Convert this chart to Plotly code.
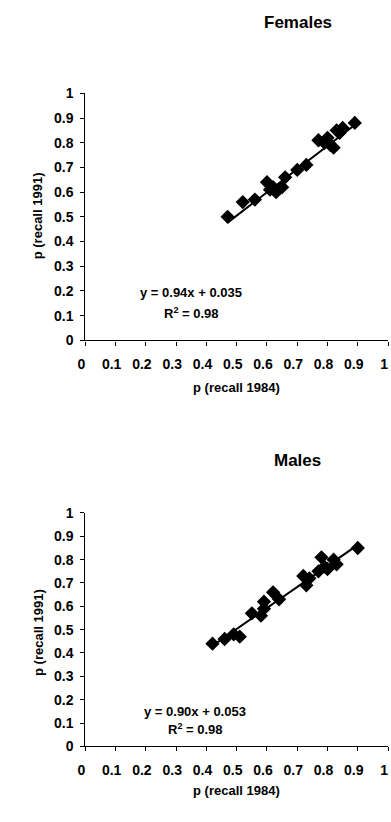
import plotly.graph_objects as go
from plotly.subplots import make_subplots

# ---- data ----
females_x = [0.47, 0.52, 0.56, 0.60, 0.61, 0.62, 0.63, 0.65, 0.66, 0.70, 0.73, 0.77, 0.79, 0.80, 0.81, 0.82, 0.83, 0.84, 0.85, 0.89]
females_y = [0.50, 0.56, 0.57, 0.64, 0.61, 0.62, 0.60, 0.62, 0.66, 0.69, 0.71, 0.81, 0.80, 0.82, 0.79, 0.78, 0.85, 0.84, 0.86, 0.88]
males_x = [0.42, 0.46, 0.49, 0.51, 0.55, 0.58, 0.59, 0.59, 0.62, 0.64, 0.72, 0.73, 0.74, 0.77, 0.78, 0.79, 0.80, 0.82, 0.83, 0.90]
males_y = [0.44, 0.46, 0.48, 0.47, 0.57, 0.56, 0.59, 0.62, 0.66, 0.63, 0.73, 0.69, 0.72, 0.75, 0.81, 0.77, 0.76, 0.80, 0.78, 0.85]

females_fit = (0.94, 0.035)
males_fit = (0.90, 0.053)
r_squared = ["0.98", "0.98"]
panel_titles = ["Females", "Males"]
eq_texts = ["y = 0.94x + 0.035", "y = 0.90x + 0.053"]

tick_vals = [0, 0.1, 0.2, 0.3, 0.4, 0.5, 0.6, 0.7, 0.8, 0.9, 1]
tick_text = ["0", "0.1", "0.2", "0.3", "0.4", "0.5", "0.6", "0.7", "0.8", "0.9", "1"]
x_title = "p (recall 1984)"
y_title = "p (recall 1991)"

W, H = 391, 822
FONT = "Liberation Sans, Arial, sans-serif"


def px(x):
    return x / W


def py(y):
    return 1 - y / H


fig = make_subplots(rows=2, cols=1)

panels = [
    (females_x, females_y, females_fit),
    (males_x, males_y, males_fit),
]
for i, (xs, ys, (m, b)) in enumerate(panels, start=1):
    fig.add_trace(go.Scatter(
        x=xs, y=ys, mode="markers",
        marker=dict(symbol="diamond", size=11, color="black"),
        cliponaxis=False, showlegend=False), row=i, col=1)
    x0, x1 = min(xs), max(xs)
    fig.add_trace(go.Scatter(
        x=[x0, x1], y=[m * x0 + b, m * x1 + b], mode="lines",
        line=dict(color="black", width=2),
        cliponaxis=False, showlegend=False), row=i, col=1)

# geometry (pixels): x axis from 79 to 388; top panel y 0->339, 1->87; bottom 0->753, 1->515
x_dom = [px(79), px(388)]
y_doms = [[py(339), py(87)], [py(753), py(515)]]

for i in (1, 2):
    xa = "xaxis" if i == 1 else "xaxis2"
    ya = "yaxis" if i == 1 else "yaxis2"
    fig.layout[xa].update(
        domain=x_dom, range=[0, 1], tickmode="array", tickvals=tick_vals, ticktext=tick_text,
        showgrid=False, zeroline=False, showline=True, linecolor="black", linewidth=1.2,
        ticks="outside", ticklen=4, tickcolor="black", tickwidth=1,
        ticklabelstandoff=7, ticklabelshift=-4,
        tickfont=dict(family=FONT, size=14, color="black", weight="bold"))
    fig.layout[ya].update(
        domain=y_doms[i - 1], range=[0, 1], tickmode="array", tickvals=tick_vals, ticktext=tick_text,
        showgrid=False, zeroline=False, showline=True, linecolor="black", linewidth=1.2,
        ticks="outside", ticklen=4, tickcolor="black", tickwidth=1,
        ticklabelstandoff=4,
        tickfont=dict(family=FONT, size=14, color="black", weight="bold"))

annots = []
title_pos = [(296, 15), (296, 461)]
xt_pos = [(233, 387), (233, 798)]
yt_pos = [(30, 212), (31, 637)]
eq_pos = [(187, 290), (191, 717)]
r2_pos = [(187, 311), (191, 735)]
for k in range(2):
    annots.append(dict(text=panel_titles[k], x=px(title_pos[k][0]), y=py(title_pos[k][1]),
                       font=dict(family=FONT, size=17, color="black", weight="bold")))
    annots.append(dict(text=x_title, x=px(xt_pos[k][0]), y=py(xt_pos[k][1]),
                       font=dict(family=FONT, size=13, color="black", weight="bold")))
    annots.append(dict(text=y_title, x=px(yt_pos[k][0]), y=py(yt_pos[k][1]), textangle=-90,
                       font=dict(family=FONT, size=13, color="black", weight="bold")))
    annots.append(dict(text=eq_texts[k], x=px(eq_pos[k][0]), y=py(eq_pos[k][1]),
                       font=dict(family=FONT, size=13, color="black", weight="bold")))
    annots.append(dict(text="R<sup>2</sup> = " + r_squared[k], x=px(r2_pos[k][0]), y=py(r2_pos[k][1]),
                       font=dict(family=FONT, size=13, color="black", weight="bold")))
for a in annots:
    a.update(xref="paper", yref="paper", showarrow=False, xanchor="center", yanchor="middle")

fig.update_layout(
    width=W, height=H, margin=dict(l=0, r=0, t=0, b=0),
    paper_bgcolor="white", plot_bgcolor="white",
    annotations=annots, showlegend=False,
)

# remove the browser's default 8px body margin so the 391x822 figure fills the window exactly
fig.write_html("out.html", config={"displayModeBar": False},
               post_script="document.body.style.margin='0';")
